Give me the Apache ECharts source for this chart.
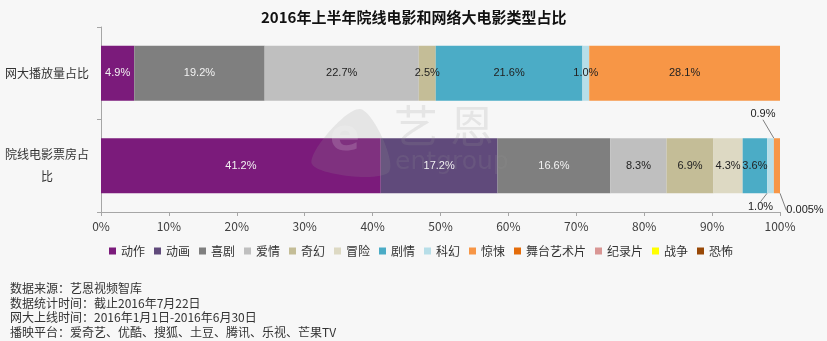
<!DOCTYPE html>
<html>
<head>
<meta charset="utf-8">
<script src="https://cdn.jsdelivr.net/npm/echarts@6/dist/echarts.min.js"></script>
<style>
  html, body { margin: 0; padding: 0; background: #f7f7f7; }
  #chart { width: 827px; height: 341px; }
</style>
</head>
<body>
<div id="chart"></div>
<script>
// Categories on the vertical axis (top to bottom)
const categories = ['网大播放量占比', '院线电影票房占比'];

// Film genres, in stacking / legend order
const genres = ['动作', '动画', '喜剧', '爱情', '奇幻', '冒险', '剧情', '科幻', '惊悚', '舞台艺术片', '纪录片', '战争', '恐怖'];

// Share per genre (%), one value per genre
const webFilmPlayShare = [4.9, 0, 19.2, 22.7, 2.5, 0, 21.6, 1.0, 28.1, null, null, null, null];
const boxOfficeShare   = [41.2, 17.2, 16.6, 8.3, 6.9, 4.3, 3.6, 1.0, 0.9, 0.005, null, null, null];

// Percent axis tick values
const percentTicks = [0, 10, 20, 30, 40, 50, 60, 70, 80, 90, 100];

const genreColors = ['#7b1b7b', '#604a7b', '#7f7f7f', '#bfbfbf', '#c4bd97', '#ddd9c3', '#4bacc6',
                     '#b7dee8', '#f79646', '#e46c0a', '#d99694', '#ffff00', '#984807'];
const lightLabelGenres = ['动作', '动画', '喜剧'];

// Small slices of the box-office bar get their labels pulled out with a guide line
// [horizontal shift, side, distance from the bar edge]
const callouts = {
  '科幻': [-10, 'below', 14],
  '惊悚': [-14, 'above', 24],
  '舞台艺术片': [25, 'below', 17]
};

function fmtPercent(v) {
  if (v == null || v === 0) return '';
  return (v < 0.1 ? String(v) : v.toFixed(1)) + '%';
}

const series = genres.map(function (name, i) {
  const vals = [webFilmPlayShare[i], boxOfficeShare[i]];
  const co = callouts[name];
  const data = vals.map(function (v, di) {
    const item = { value: v };
    if (co && di === 1) {
      item.labelLine = { show: true, lineStyle: { color: '#7f7f7f', width: 1 } };
    }
    return item;
  });
  const s = {
    name: name,
    type: 'bar',
    stack: 'share',
    barWidth: 55,
    itemStyle: { color: genreColors[i] },
    data: data,
    label: {
      show: true,
      position: 'inside',
      fontSize: 11,
      fontFamily: 'Liberation Sans, Arial, sans-serif',
      color: lightLabelGenres.indexOf(name) >= 0 ? '#f2f2f2' : '#222',
      formatter: function (p) { return fmtPercent(p.value); }
    },
    labelLine: { show: false },
    emphasis: { disabled: true }
  };
  if (name === '舞台艺术片') s.barMinHeight = 2;
  if (co) {
    s.labelLayout = function (params) {
      if (params.dataIndex !== 1) return {};
      const r = params.rect;
      const cx = r.x + r.width / 2 + co[0];
      const cy = co[1] === 'below' ? r.y + r.height + co[2] : r.y - co[2];
      return { x: cx, y: cy, align: 'center', verticalAlign: 'middle' };
    };
  }
  return s;
});

const chart = echarts.init(document.getElementById('chart'), null, { renderer: 'canvas' });

const markFill = 'rgba(150,150,150,0.18)';

chart.setOption({
  backgroundColor: '#f7f7f7',
  animation: false,
  title: {
    text: '2016年上半年院线电影和网络大电影类型占比',
    left: 256,
    top: 5,
    textStyle: { fontSize: 15, fontWeight: 'bold', color: '#111', fontFamily: 'Noto Sans CJK SC' }
  },
  grid: { left: 101, right: 47, top: 27, height: 185 },
  legend: {
    data: genres,
    left: 104,
    top: 240,
    itemWidth: 7,
    itemHeight: 7,
    itemGap: 9,
    icon: 'rect',
    textStyle: { fontSize: 12, color: '#333', fontFamily: 'Noto Sans CJK SC' },
    selectedMode: false
  },
  xAxis: {
    type: 'value',
    min: 0,
    max: 100,
    interval: 10,
    axisLine: { show: true, lineStyle: { color: '#a6a6a6' } },
    axisTick: { show: true, length: 4, lineStyle: { color: '#a6a6a6' } },
    splitLine: { show: false },
    axisLabel: {
      margin: 8,
      fontSize: 12,
      color: '#404040',
      fontFamily: 'Noto Sans CJK SC',
      formatter: function (v) { return percentTicks.indexOf(v) >= 0 ? v + '%' : ''; }
    }
  },
  yAxis: {
    type: 'category',
    inverse: true,
    data: categories,
    axisLine: { show: true, lineStyle: { color: '#a6a6a6' } },
    axisTick: { show: true, length: 4, lineStyle: { color: '#a6a6a6' } },
    axisLabel: {
      margin: 54,
      align: 'center',
      width: 86,
      overflow: 'break',
      lineHeight: 22,
      fontSize: 12,
      color: '#333',
      fontFamily: 'Noto Sans CJK SC'
    }
  },
  graphic: [
    // faint brand watermark
    {
      type: 'polygon',
      silent: true,
      z: 100,
      shape: {
        points: [[360, 109], [389, 172], [312, 164]],
        smooth: 0.35
      },
      style: { fill: markFill }
    },
    {
      type: 'text',
      left: 330,
      top: 117,
      silent: true,
      z: 100,
      style: { text: 'e', font: 'bold 44px "DejaVu Sans"', fill: 'rgba(255,255,255,0.16)' }
    },
    {
      type: 'text',
      left: 394,
      top: 104,
      silent: true,
      z: 100,
      style: { text: '艺', font: '44px "Noto Sans CJK SC"', fill: markFill }
    },
    {
      type: 'text',
      left: 450,
      top: 104,
      silent: true,
      z: 100,
      style: { text: '恩', font: '44px "Noto Sans CJK SC"', fill: markFill }
    },
    {
      type: 'text',
      left: 395,
      top: 150,
      silent: true,
      z: 100,
      style: { text: 'entgroup', font: '25px "DejaVu Sans"', fill: 'rgba(150,150,150,0.16)' }
    },
    // source notes
    {
      type: 'text',
      left: 10,
      top: 281,
      silent: true,
      style: {
        text: '数据来源：艺恩视频智库\n数据统计时间：截止2016年7月22日\n网大上线时间：2016年1月1日-2016年6月30日\n播映平台：爱奇艺、优酷、搜狐、土豆、腾讯、乐视、芒果TV',
        font: '12px "Noto Sans CJK SC"',
        lineHeight: 14.7,
        fill: '#333'
      }
    }
  ],
  series: series
});
</script>
</body>
</html>
